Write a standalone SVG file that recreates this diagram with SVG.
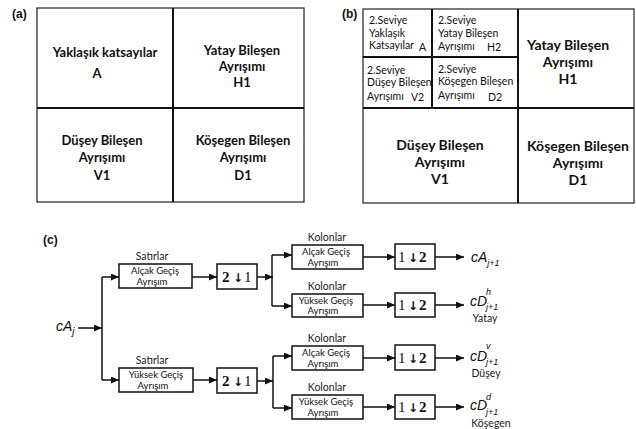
<svg xmlns="http://www.w3.org/2000/svg" width="636" height="429" viewBox="0 0 636 429">
<style>
.bg{fill:#fff}
.frame{fill:none;stroke:#222;stroke-width:1.2}
.div{stroke:#111;stroke-width:2;fill:none}
.big{font-family:Lato,"Open Sans","Liberation Sans",sans-serif;font-weight:bold;font-size:13px;fill:#111;text-anchor:middle}
.bigb{font-family:Lato,"Open Sans","Liberation Sans",sans-serif;font-weight:bold;font-size:14px;fill:#111;text-anchor:middle}
.sm{font-family:Lato,"Open Sans","Liberation Sans",sans-serif;font-size:10.5px;fill:#111}
.tag{font-family:"Liberation Sans",Arial,sans-serif;font-weight:bold;font-size:12px;fill:#111}
.box{fill:#fff;stroke:#111;stroke-width:1.5}
.lbl{font-family:Lato,"Open Sans","Liberation Sans",sans-serif;font-size:9.5px;fill:#111;text-anchor:middle}
.cap{font-family:Lato,"Open Sans","Liberation Sans",sans-serif;font-size:10.5px;fill:#222;text-anchor:middle}
.ds{font-family:"Liberation Serif","DejaVu Serif",serif;font-size:15px;fill:#111}
.dsb{font-weight:bold}
.arr{font-family:"DejaVu Sans",sans-serif;font-weight:bold;font-size:12px;fill:#111}
.math{font-family:"Liberation Sans",Arial,sans-serif;font-style:italic;fill:#111}
.conn{stroke:#111;stroke-width:1.5;fill:none}
</style>
<defs>
<marker id="ah" markerUnits="userSpaceOnUse" markerWidth="9" markerHeight="8" refX="8" refY="3.5" orient="auto">
<path d="M0,0 L8,3.5 L0,7 z" fill="#111"/>
</marker>
</defs>
<rect class="bg" x="0" y="0" width="636" height="429"/>

<!-- Panel (a) -->
<g id="panel-a">
<text class="tag" x="12" y="18">(a)</text>
<rect class="frame" x="37" y="8" width="267" height="194"/>
<line class="div" x1="173" y1="8" x2="173" y2="202"/>
<line class="div" x1="37" y1="108" x2="304" y2="108"/>
</g>
<g id="a-A">
<text class="big" x="105" y="57">Yaklaşık katsayılar</text>
<text class="big" x="97" y="78">A</text>
</g>
<g id="a-H1">
<text class="big" x="242" y="55">Yatay Bileşen</text>
<text class="big" x="242" y="71">Ayrışımı</text>
<text class="big" x="242" y="87">H1</text>
</g>
<g id="a-V1">
<text class="big" x="102" y="145">Düşey Bileşen</text>
<text class="big" x="102" y="162">Ayrışımı</text>
<text class="big" x="102" y="180">V1</text>
</g>
<g id="a-D1">
<text class="big" x="243" y="145">Köşegen Bileşen</text>
<text class="big" x="243" y="162">Ayrışımı</text>
<text class="big" x="243" y="180">D1</text>
</g>

<!-- Panel (b) -->
<g id="panel-b">
<text class="tag" x="342" y="18">(b)</text>
<rect class="frame" x="363" y="9" width="271" height="194"/>
<line class="div" x1="518" y1="9" x2="518" y2="203"/>
<line class="div" x1="363" y1="108" x2="634" y2="108"/>
<line class="div" x1="432" y1="9" x2="432" y2="108"/>
<line class="div" x1="363" y1="57" x2="518" y2="57"/>
</g>
<g id="b-A2">
<text class="sm" x="369" y="24">2.Seviye</text>
<text class="sm" x="369" y="37">Yaklaşık</text>
<text class="sm" x="369" y="49">Katsayılar</text>
<text class="sm" x="419" y="51">A</text>
</g>
<g id="b-H2">
<text class="sm" x="438" y="24">2.Seviye</text>
<text class="sm" x="438" y="37">Yatay Bileşen</text>
<text class="sm" x="438" y="50">Ayrışımı</text>
<text class="sm" x="487" y="51">H2</text>
</g>
<g id="b-V2">
<text class="sm" x="367" y="74">2.Seviye</text>
<text class="sm" x="367" y="86">Düşey Bileşen</text>
<text class="sm" x="367" y="100">Ayrışımı</text>
<text class="sm" x="411" y="101">V2</text>
</g>
<g id="b-D2">
<text class="sm" x="438" y="73">2.Seviye</text>
<text class="sm" x="438" y="85">Köşegen Bileşen</text>
<text class="sm" x="438" y="99">Ayrışımı</text>
<text class="sm" x="488" y="101">D2</text>
</g>
<g id="b-H1">
<text class="bigb" x="568" y="50">Yatay Bileşen</text>
<text class="bigb" x="568" y="67">Ayrışımı</text>
<text class="bigb" x="568" y="84">H1</text>
</g>
<g id="b-V1">
<text class="bigb" x="440" y="150">Düşey Bileşen</text>
<text class="bigb" x="440" y="167">Ayrışımı</text>
<text class="bigb" x="440" y="184">V1</text>
</g>
<g id="b-D1">
<text class="bigb" x="578" y="151">Köşegen Bileşen</text>
<text class="bigb" x="578" y="168">Ayrışımı</text>
<text class="bigb" x="578" y="185">D1</text>
</g>

<!-- Panel (c) -->
<text class="tag" x="43" y="244">(c)</text>

<g id="connectors">
<line class="conn" x1="78" y1="328" x2="102" y2="328" marker-end="url(#ah)"/>
<line class="conn" x1="102" y1="277" x2="102" y2="380"/>
<line class="conn" x1="102" y1="277" x2="119" y2="277" marker-end="url(#ah)"/>
<line class="conn" x1="102" y1="380" x2="119" y2="380" marker-end="url(#ah)"/>
<line class="conn" x1="192" y1="277" x2="217" y2="277" marker-end="url(#ah)"/>
<line class="conn" x1="193" y1="380" x2="217" y2="380" marker-end="url(#ah)"/>
<line class="conn" x1="257" y1="277" x2="273" y2="277" marker-end="url(#ah)"/>
<line class="conn" x1="257" y1="381" x2="273" y2="381" marker-end="url(#ah)"/>
<line class="conn" x1="272" y1="255" x2="272" y2="306"/>
<line class="conn" x1="272" y1="255" x2="292" y2="255" marker-end="url(#ah)"/>
<line class="conn" x1="272" y1="306" x2="292" y2="306" marker-end="url(#ah)"/>
<line class="conn" x1="273" y1="356" x2="273" y2="408"/>
<line class="conn" x1="273" y1="356" x2="292" y2="356" marker-end="url(#ah)"/>
<line class="conn" x1="273" y1="408" x2="292" y2="408" marker-end="url(#ah)"/>
<line class="conn" x1="363" y1="257" x2="395" y2="257" marker-end="url(#ah)"/>
<line class="conn" x1="363" y1="305" x2="395" y2="305" marker-end="url(#ah)"/>
<line class="conn" x1="363" y1="358" x2="395" y2="358" marker-end="url(#ah)"/>
<line class="conn" x1="363" y1="407" x2="395" y2="407" marker-end="url(#ah)"/>
<line class="conn" x1="435" y1="257" x2="464" y2="257" marker-end="url(#ah)"/>
<line class="conn" x1="435" y1="305" x2="464" y2="305" marker-end="url(#ah)"/>
<line class="conn" x1="435" y1="358" x2="464" y2="358" marker-end="url(#ah)"/>
<line class="conn" x1="435" y1="407" x2="464" y2="407" marker-end="url(#ah)"/>
</g>

<g id="input">
<text class="math" x="56" y="331" font-size="14">cA<tspan font-size="10" dy="4">j</tspan></text>
</g>

<g id="row-low">
<text class="cap" x="152" y="260">Satırlar</text>
<rect class="box" x="119" y="264" width="73" height="24"/>
<text class="lbl" x="155" y="274">Alçak Geçiş</text>
<text class="lbl" x="152" y="284.5">Ayrışım</text>
</g>
<g id="row-high">
<text class="cap" x="152" y="364">Satırlar</text>
<rect class="box" x="119" y="368" width="74" height="24"/>
<text class="lbl" x="156" y="378">Yüksek Geçiş</text>
<text class="lbl" x="153" y="388.5">Ayrışım</text>
</g>
<g id="down-1">
<rect class="box" x="217" y="264" width="40" height="25"/>
<text class="ds dsb" x="222" y="282">2</text>
<text class="arr" x="233" y="282">↓</text>
<text class="ds" x="244" y="282">1</text>
</g>
<g id="down-2">
<rect class="box" x="217" y="368" width="40" height="25"/>
<text class="ds dsb" x="222" y="386">2</text>
<text class="arr" x="233" y="386">↓</text>
<text class="ds" x="244" y="386">1</text>
</g>
<g id="col-1">
<text class="cap" x="327" y="241">Kolonlar</text>
<rect class="box" x="292" y="245" width="71" height="24"/>
<text class="lbl" x="326" y="255">Alçak Geçiş</text>
<text class="lbl" x="323" y="265.5">Ayrışım</text>
</g>
<g id="col-2">
<text class="cap" x="327" y="290">Kolonlar</text>
<rect class="box" x="292" y="294" width="71" height="23"/>
<text class="lbl" x="326" y="303.5">Yüksek Geçiş</text>
<text class="lbl" x="323" y="314">Ayrışım</text>
</g>
<g id="col-3">
<text class="cap" x="327" y="342">Kolonlar</text>
<rect class="box" x="292" y="346" width="71" height="24"/>
<text class="lbl" x="326" y="356">Alçak Geçiş</text>
<text class="lbl" x="323" y="366.5">Ayrışım</text>
</g>
<g id="col-4">
<text class="cap" x="327" y="391">Kolonlar</text>
<rect class="box" x="292" y="395" width="71" height="24"/>
<text class="lbl" x="326" y="405">Yüksek Geçiş</text>
<text class="lbl" x="323" y="415.5">Ayrışım</text>
</g>
<g id="up-1">
<rect class="box" x="395" y="244" width="40" height="25"/>
<text class="ds" x="398" y="262">1</text>
<text class="arr" x="408" y="262">↓</text>
<text class="ds dsb" x="419" y="262">2</text>
</g>
<g id="up-2">
<rect class="box" x="395" y="293" width="40" height="24"/>
<text class="ds" x="398" y="310">1</text>
<text class="arr" x="408" y="310">↓</text>
<text class="ds dsb" x="419" y="310">2</text>
</g>
<g id="up-3">
<rect class="box" x="395" y="345" width="40" height="25"/>
<text class="ds" x="398" y="363">1</text>
<text class="arr" x="408" y="363">↓</text>
<text class="ds dsb" x="419" y="363">2</text>
</g>
<g id="up-4">
<rect class="box" x="395" y="395" width="40" height="24"/>
<text class="ds" x="398" y="412">1</text>
<text class="arr" x="408" y="412">↓</text>
<text class="ds dsb" x="419" y="412">2</text>
</g>
<g id="out-A">
<text class="math" x="471" y="262" font-size="14">cA<tspan font-size="9" dy="4">j+1</tspan></text>
</g>
<g id="out-H">
<text class="math" x="470" y="306" font-size="14">cD</text>
<text class="math" x="486" y="295" font-size="9">h</text>
<text class="math" x="486" y="310" font-size="9">j+1</text>
<text class="cap" x="485" y="322">Yatay</text>
</g>
<g id="out-V">
<text class="math" x="470" y="361" font-size="14">cD</text>
<text class="math" x="486" y="349" font-size="9">v</text>
<text class="math" x="486" y="365" font-size="9">j+1</text>
<text class="cap" x="486" y="377">Düşey</text>
</g>
<g id="out-D">
<text class="math" x="470" y="410" font-size="14">cD</text>
<text class="math" x="486" y="400" font-size="9">d</text>
<text class="math" x="486" y="415" font-size="9">j+1</text>
<text class="cap" x="491" y="427">Köşegen</text>
</g>
</svg>
